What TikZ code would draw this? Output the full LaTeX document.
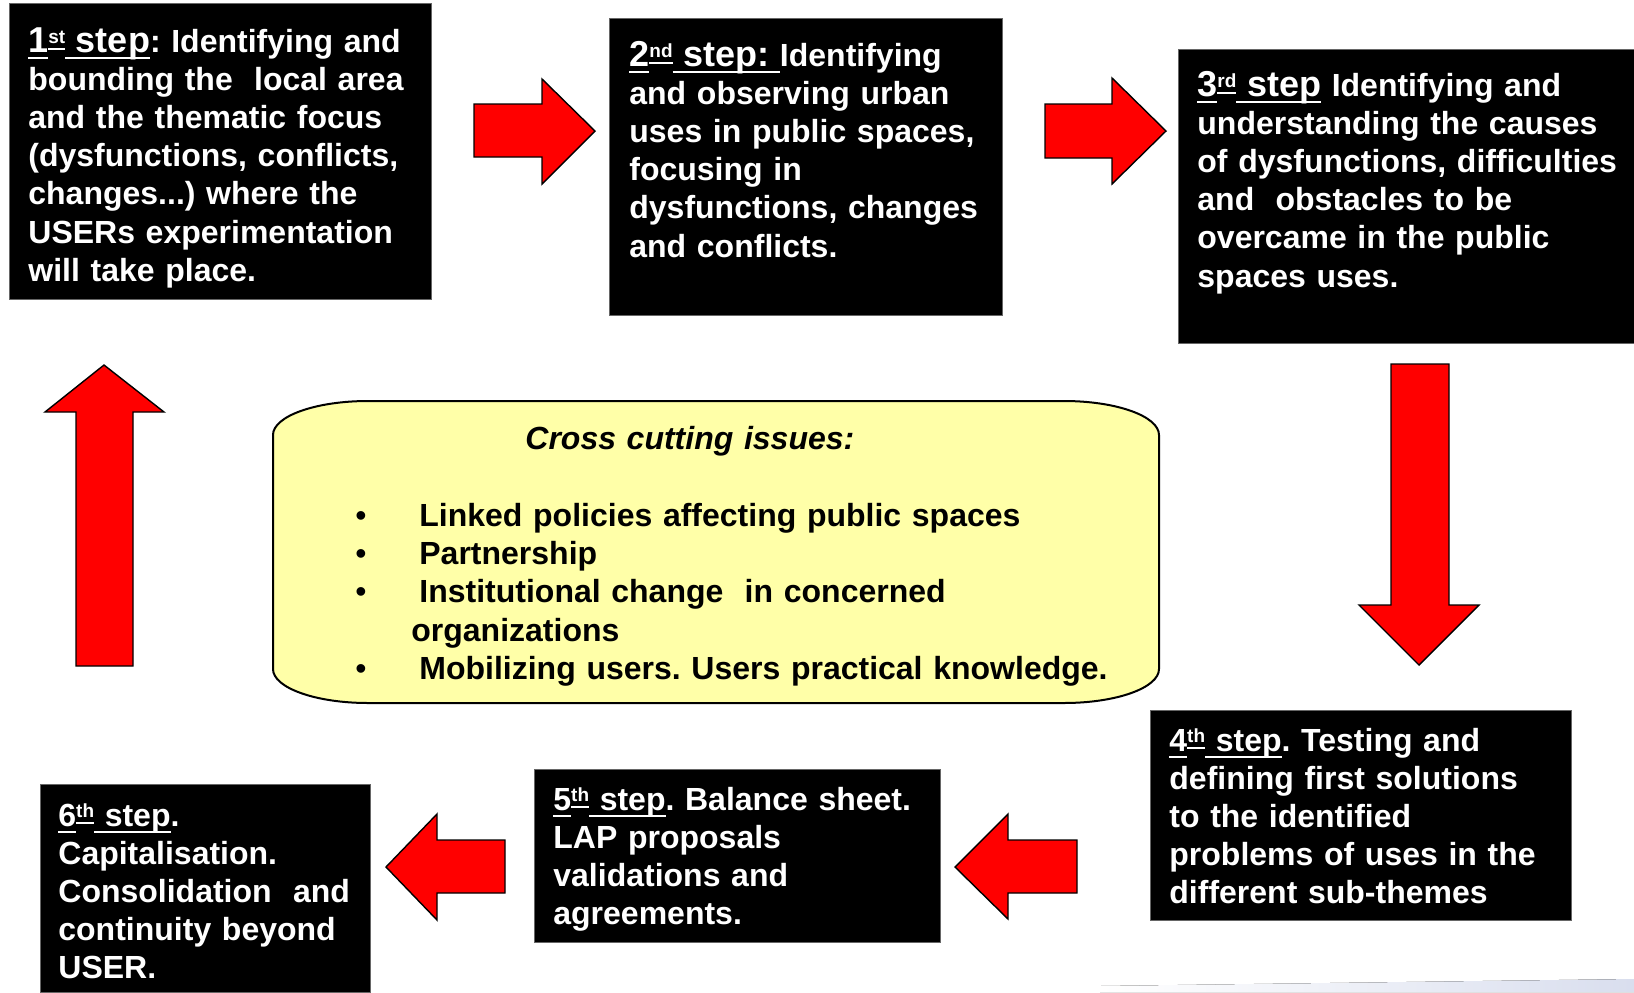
\documentclass[tikz,border=0pt]{standalone}
\usepackage{fontspec}
\setmainfont{Liberation Sans}
\usetikzlibrary{fit}

\definecolor{issuesyellow}{RGB}{255,255,168}
\definecolor{bandblue}{RGB}{217,222,238}

\frenchspacing
\newcommand{\ulined}[1]{\setbox0\hbox{#1}\rlap{\rule[-3.5pt]{\wd0}{0.9pt}}\box0\relax}
\newcommand{\ordsup}[1]{\raisebox{4.5pt}{\fontsize{9.5}{9.5}\selectfont\ulined{#1}}}
\newcommand{\bigstep}{\fontsize{18}{19.1}\selectfont}

\begin{document}
\begin{tikzpicture}[x=0.5pt,y=-0.5pt]

			\tikzstyle{stepbox}=[fill=black,draw=black!60,
				line width=0.4pt,inner sep=0pt]
			\tikzstyle{steptext}=[text=white,anchor=base west,
				inner sep=0pt,text width=240pt,align=left,
				font=\fontsize{16}{19.1}\selectfont\bfseries]
			\tikzstyle{issuetext}=[text=black,anchor=base west,
				inner sep=0pt,text width=400pt,align=left,
				font=\fontsize{16}{19.2}\selectfont\bfseries]
			\tikzstyle{redarrow}=[fill=red,draw=black,
				line width=0.7pt,line join=miter]

			\useasboundingbox (0,0) rectangle (1634,992);

			\fill[left color=white,right color=bandblue]
				(1100,986) -- (1634,979) -- (1634,992) -- (1100,992) -- cycle;

			\node[stepbox,fit={(9,3) (431,299)}]		(s1)	{};
			\node[stepbox,fit={(609,18) (1002,315)}]	(s2)	{};
			\node[stepbox,fit={(1178,49) (1634,343)}]	(s3)	{};
			\node[stepbox,fit={(1150,710) (1571,920)}]	(s4)	{};
			\node[stepbox,fit={(534,769) (940,942)}]	(s5)	{};
			\node[stepbox,fit={(40,784) (370,992)}]		(s6)	{};

			\node[steptext] (t1) at (28,52)
				{{\bigstep\ulined{1}\ordsup{st}\ulined{\ step}}: Identifying and\\
				bounding the\ \ local area\\
				and the thematic focus\\
				(dysfunctions, conflicts,\\
				changes...) where the\\
				USERs experimentation\\
				will take place.};
			\node[steptext] (t2) at (629,66)
				{{\bigstep\ulined{2}\ordsup{nd}\ulined{\ step:\ }}Identifying\\
				and observing urban\\
				uses in public spaces,\\
				focusing in\\
				dysfunctions, changes\\
				and conflicts.};
			\node[steptext] (t3) at (1197,96)
				{{\bigstep\ulined{3}\ordsup{rd}\ulined{\ step}} Identifying and\\
				understanding the causes\\
				of dysfunctions, difficulties\\
				and\ \ obstacles to be\\
				overcame in the public\\
				spaces uses.};
			\node[steptext] (t4) at (1169,751)
				{\ulined{4}\ordsup{th}\ulined{\ step}. Testing and\\
				defining first solutions\\
				to the identified\\
				problems of uses in the\\
				different sub-themes};
			\node[steptext] (t5) at (553,810)
				{\ulined{5}\ordsup{th}\ulined{\ step}. Balance sheet.\\
				LAP proposals\\
				validations and\\
				agreements.};
			\node[steptext] (t6) at (58,826)
				{\ulined{6}\ordsup{th}\ulined{\ step}.\\
				Capitalisation.\\
				Consolidation\ \ and\\
				continuity beyond\\
				USER.};

			\draw[redarrow] (474,104) -- (542,104) -- (542,79) -- (595,131)
				-- (542,184) -- (542,157) -- (474,157) -- cycle;
			\draw[redarrow] (1045,104) -- (1112,104) -- (1112,78) -- (1166,131)
				-- (1112,184) -- (1112,158) -- (1045,158) -- cycle;
			\draw[redarrow] (1391,364) -- (1449,364) -- (1449,605) -- (1479,605)
				-- (1419,665) -- (1359,605) -- (1391,605) -- cycle;
			\draw[redarrow] (1077,840) -- (1008,840) -- (1008,814) -- (955,867)
				-- (1008,919) -- (1008,893) -- (1077,893) -- cycle;
			\draw[redarrow] (505,840) -- (437,840) -- (437,814) -- (386,867)
				-- (437,920) -- (437,893) -- (505,893) -- cycle;
			\draw[redarrow] (76,666) -- (76,412) -- (45,412) -- (104,365)
				-- (164,412) -- (133,412) -- (133,666) -- cycle;

			\draw[fill=issuesyellow,draw=black,line width=1pt]
				(368,401) -- (1064,401)
				arc[start angle=-90,end angle=0,x radius=95,y radius=34]
				-- (1159,669)
				arc[start angle=0,end angle=90,x radius=95,y radius=34]
				-- (368,703)
				arc[start angle=90,end angle=180,x radius=95,y radius=34]
				-- (273,435)
				arc[start angle=180,end angle=270,x radius=95,y radius=34]
				-- cycle;

			\node[issuetext] (title) at (525,449) {\itshape Cross cutting issues:};
			\node[issuetext] (issues) at (355,526)
				{\makebox[32pt][l]{\mdseries\textbullet}Linked policies affecting public spaces\\
				\makebox[32pt][l]{\mdseries\textbullet}Partnership\\
				\makebox[32pt][l]{\mdseries\textbullet}Institutional change\ \ in concerned\\
				\hspace*{28pt}organizations\\
				\makebox[32pt][l]{\mdseries\textbullet}Mobilizing users. Users practical knowledge.};

\end{tikzpicture}
\end{document}
